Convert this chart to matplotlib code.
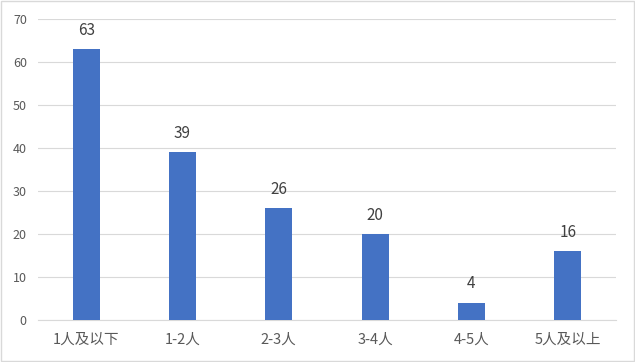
import matplotlib
matplotlib.use("Agg")
import matplotlib.pyplot as plt
from matplotlib.patches import Rectangle

plt.rcParams['font.family'] = ['Noto Sans CJK SC', 'DejaVu Sans']

categories = ["1人及以下", "1-2人", "2-3人", "3-4人", "4-5人", "5人及以上"]
values = [63, 39, 26, 20, 4, 16]

fig = plt.figure(figsize=(6.35, 3.62), dpi=100)
ax = fig.add_axes([0.0598, 0.116, 0.910, 0.8315])

x = list(range(len(categories)))
ax.bar(x, values, width=0.28, color="#4472C4", zorder=3)
for xi, v in zip(x, values):
    ax.text(xi, v + 2.4, str(v), ha="center", va="bottom", fontsize=11, color="#404040")

ax.set_xlim(-0.5, len(categories) - 0.5)
ax.set_ylim(0, 70)
ax.set_yticks(range(0, 71, 10))
ax.set_xticks(x)
ax.set_xticklabels(categories)
ax.tick_params(axis="both", length=0, colors="#595959")
ax.tick_params(axis="x", pad=9, labelsize=10.5)
ax.tick_params(axis="y", pad=8, labelsize=9)
ax.grid(axis="y", color="#D9D9D9", linewidth=0.8, zorder=0)
for s in ["top", "right", "left"]:
    ax.spines[s].set_visible(False)
ax.spines["bottom"].set_color("#D9D9D9")
ax.spines["bottom"].set_linewidth(0.8)

fig.patches.append(Rectangle((0.002, 0.003), 0.996, 0.994, transform=fig.transFigure,
                             fill=False, edgecolor="#D9D9D9", linewidth=1))

fig.savefig("out.png", dpi=100)
